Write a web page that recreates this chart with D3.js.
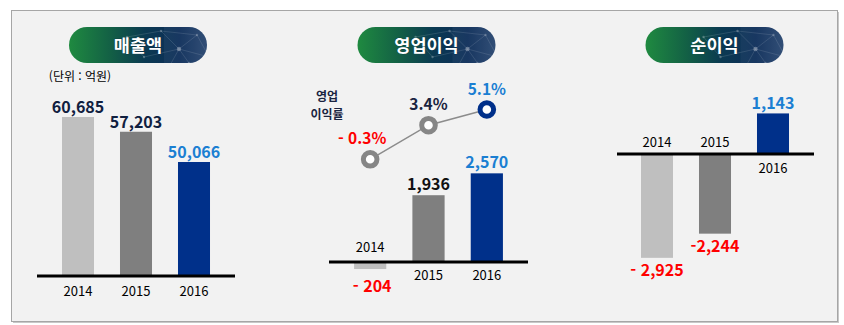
<!DOCTYPE html>
<html lang="ko">
<head>
<meta charset="utf-8">
<script src="https://cdn.jsdelivr.net/npm/d3@7"></script>
<style>
  html, body { margin: 0; padding: 0; background: #ffffff; }
  svg { display: block; }
  text { font-family: "Noto Sans CJK KR", "Noto Sans", sans-serif; }
</style>
</head>
<body>
<svg id="chart" width="844" height="325"></svg>
<script>
// ---- data ----
const years = ["2014", "2015", "2016"];
const panelTitles = ["매출액", "영업이익", "순이익"];

const revenue = [60685, 57203, 50066];
const revenueLabels = ["60,685", "57,203", "50,066"];

const operatingProfit = [-204, 1936, 2570];
const operatingProfitLabels = ["- 204", "1,936", "2,570"];

const operatingMargin = [-0.3, 3.4, 5.1];
const operatingMarginLabels = ["- 0.3%", "3.4%", "5.1%"];

const netIncome = [-2925, -2244, 1143];
const netIncomeLabels = ["- 2,925", "-2,244", "1,143"];

// ---- styles ----
const barColors = ["#bfbfbf", "#7f7f7f", "#00308a"];
const labelColors = ["#10203f", "#10203f", "#1b7fd2"];
const red = "#ff0000";
const FONT = "'Noto Sans CJK KR', 'Noto Sans', sans-serif";

const svg = d3.select("#chart");
const defs = svg.append("defs");

// panel frame
svg.append("rect").attr("x", 13).attr("y", 12).attr("width", 826).attr("height", 311)
  .attr("fill", "#c8c8c8");
svg.append("rect").attr("x", 11.5).attr("y", 10.5).attr("width", 826).attr("height", 311)
  .attr("fill", "#f2f2f2").attr("stroke", "#a6a6a6").attr("stroke-width", 1);

// badge gradient
const grad = defs.append("linearGradient").attr("id", "badgeGrad")
  .attr("x1", "0%").attr("x2", "100%").attr("y1", "0%").attr("y2", "0%");
[["0%", "#1f8a40"], ["30%", "#136045"], ["55%", "#0b3a52"], ["80%", "#0d2d58"], ["100%", "#2a4770"]]
  .forEach(([o, c]) => grad.append("stop").attr("offset", o).attr("stop-color", c));

function badge(cx, cy, title) {
  const w = 138, h = 36;
  const g = svg.append("g").attr("transform", `translate(${cx - w / 2},${cy - h / 2})`);
  const clipId = "clip-" + title;
  defs.append("clipPath").attr("id", clipId)
    .append("rect").attr("width", w).attr("height", h).attr("rx", h / 2);
  g.append("rect").attr("width", w).attr("height", h).attr("rx", h / 2)
    .attr("fill", "url(#badgeGrad)");
  // faint network texture
  const net = g.append("g").attr("clip-path", `url(#${clipId})`)
    .attr("stroke", "#ffffff").attr("stroke-opacity", 0.16).attr("stroke-width", 0.8);
  const nodes = [[58, 10], [92, 4], [110, 22], [128, 8], [140, 30], [100, 40], [75, 30], [120, 36]];
  const links = [[0, 1], [1, 2], [2, 3], [2, 4], [2, 5], [0, 6], [6, 2], [3, 4], [5, 7], [1, 3], [2, 7]];
  links.forEach(([a, b]) => net.append("line")
    .attr("x1", nodes[a][0]).attr("y1", nodes[a][1]).attr("x2", nodes[b][0]).attr("y2", nodes[b][1]));
  nodes.forEach(([x, y], i) => g.append("circle").attr("cx", x).attr("cy", y)
    .attr("r", i === 2 ? 2.2 : 1.2).attr("fill", "#ffffff").attr("fill-opacity", i === 2 ? 0.35 : 0.25)
    .attr("clip-path", `url(#${clipId})`));
  g.append("rect").attr("x", 95).attr("width", 43).attr("height", h).attr("fill", "#6f86a8")
    .attr("fill-opacity", 0.12).attr("clip-path", `url(#${clipId})`);
  g.append("text").attr("x", w / 2).attr("y", h / 2 + 6.5).attr("text-anchor", "middle")
    .attr("font-family", FONT).attr("font-weight", 700).attr("font-size", 17.5)
    .attr("fill", "#ffffff").attr("stroke", "#0a2a40").attr("stroke-width", 0.4)
    .attr("paint-order", "stroke").text(title);
}

badge(138, 45, panelTitles[0]);
badge(426.5, 45, panelTitles[1]);
badge(714.5, 45, panelTitles[2]);

function baseline(x0, x1, y) {
  svg.append("line").attr("x1", x0).attr("x2", x1).attr("y1", y).attr("y2", y)
    .attr("stroke", "#000000").attr("stroke-width", 3);
}
function label(x, y, txt, opts) {
  return svg.append("text").attr("x", x).attr("y", y).attr("text-anchor", "middle")
    .attr("font-family", FONT)
    .attr("font-size", opts.size || 16)
    .attr("font-weight", opts.weight || 700)
    .attr("fill", opts.color || "#000")
    .text(txt);
}

// ---- panel 1: revenue ----
{
  const x = d3.scaleBand().domain(years).range([49, 223]).paddingInner(0.448).paddingOuter(0.224);
  const base = 276;
  const y = d3.scaleLinear().domain([23170, 60685]).range([base, 117]);
  svg.append("g").selectAll("rect").data(revenue).join("rect")
    .attr("x", (d, i) => x(years[i])).attr("width", x.bandwidth())
    .attr("y", d => y(d)).attr("height", d => base - y(d))
    .attr("fill", (d, i) => barColors[i]);
  baseline(x.range()[0] - 12, x.range()[1] + 12, base);
  revenue.forEach((d, i) => {
    const cx = x(years[i]) + x.bandwidth() / 2;
    label(cx, y(d) - 4, revenueLabels[i], { color: labelColors[i] });
    label(cx, base + 20, years[i], { size: 13, weight: 400, color: "#000" });
  });
  label(80, 81, "(단위 : 억원)", { size: 12, weight: 400, color: "#000" });
}

// ---- panel 2: operating profit + margin ----
{
  const x = d3.scaleBand().domain(years).range([341, 516]).paddingInner(0.448).paddingOuter(0.224);
  const base = 262;
  const k = 0.0345;
  const y = d3.scaleLinear().domain([0, 2570]).range([base, base - 2570 * k]);
  svg.append("g").selectAll("rect").data(operatingProfit).join("rect")
    .attr("x", (d, i) => x(years[i])).attr("width", x.bandwidth())
    .attr("y", d => Math.min(y(d), base)).attr("height", d => Math.abs(base - y(d)))
    .attr("fill", (d, i) => barColors[i]);
  baseline(x.range()[0] - 12, x.range()[1] + 12, base);
  operatingProfit.forEach((d, i) => {
    const cx = x(years[i]) + x.bandwidth() / 2;
    if (d < 0) {
      label(cx + 2, y(d) + 23, operatingProfitLabels[i], { color: red });
      label(cx, base - 10, years[i], { size: 13, weight: 400 });
    } else {
      label(cx, y(d) - 5, operatingProfitLabels[i], { color: i === 2 ? labelColors[2] : "#111111" });
      label(cx, base + 18, years[i], { size: 13, weight: 400 });
    }
  });

  // margin line
  const ym = d3.scaleLinear().domain([-0.3, 5.1]).range([159.3, 109.5]);
  const pts = operatingMargin.map((d, i) => [x(years[i]) + x.bandwidth() / 2, ym(d)]);
  svg.append("path").attr("d", d3.line()(pts)).attr("fill", "none")
    .attr("stroke", "#8c8c8c").attr("stroke-width", 1.5);
  svg.append("g").selectAll("circle").data(pts).join("circle")
    .attr("cx", d => d[0]).attr("cy", d => d[1]).attr("r", 6.8)
    .attr("fill", "#ffffff")
    .attr("stroke", (d, i) => i === 2 ? "#00308a" : "#868686")
    .attr("stroke-width", 5);
  operatingMargin.forEach((d, i) => {
    const [px, py] = pts[i];
    const col = d < 0 ? red : (i === 2 ? labelColors[2] : "#1a2440");
    label(d < 0 ? px - 8 : px, py - 15, operatingMarginLabels[i], { color: col, size: 15.5 });
  });
  // series name on two lines
  label(327, 100.5, "영업", { size: 12, color: "#1a2440" });
  label(327, 118.5, "이익률", { size: 12, color: "#1a2440" });
}

// ---- panel 3: net income ----
{
  const x = d3.scaleBand().domain(years).range([628, 802]).paddingInner(0.448).paddingOuter(0.224);
  const base = 154;
  const k = 0.0355;
  const y = d3.scaleLinear().domain([0, 1143]).range([base, base - 1143 * k]);
  svg.append("g").selectAll("rect").data(netIncome).join("rect")
    .attr("x", (d, i) => x(years[i])).attr("width", x.bandwidth())
    .attr("y", d => Math.min(y(d), base)).attr("height", d => Math.abs(base - y(d)))
    .attr("fill", (d, i) => barColors[i]);
  baseline(x.range()[0] - 11, x.range()[1] + 12, base);
  netIncome.forEach((d, i) => {
    const cx = x(years[i]) + x.bandwidth() / 2;
    if (d < 0) {
      label(cx, y(d) + 18, netIncomeLabels[i], { color: red });
      label(cx, base - 7, years[i], { size: 13, weight: 400 });
    } else {
      label(cx, y(d) - 4, netIncomeLabels[i], { color: labelColors[2] });
      label(cx, base + 19, years[i], { size: 13, weight: 400 });
    }
  });
}
</script>
</body>
</html>
